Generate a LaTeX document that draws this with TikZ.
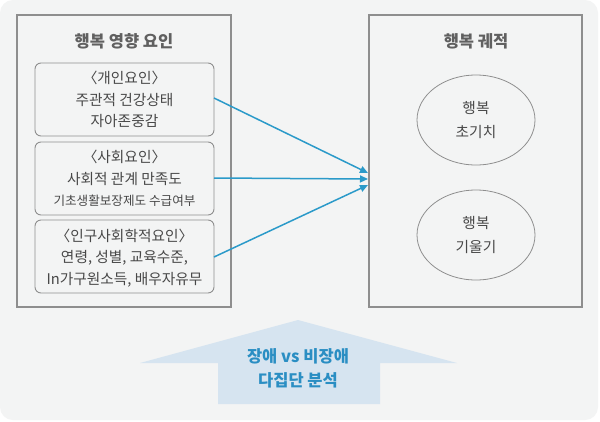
\documentclass[tikz,border=0pt]{standalone}
\usepackage{fontspec}
\setmainfont{Noto Sans CJK KR}
\usetikzlibrary{shapes.geometric,arrows.meta}
\definecolor{bgc}{HTML}{F3F4F4}
\definecolor{edgec}{HTML}{8E8E8E}
\definecolor{txtc}{HTML}{484848}
\definecolor{ttlc}{HTML}{606060}
\definecolor{bluec}{HTML}{2B9AC9}
\definecolor{bigc}{HTML}{D6E4F0}
\definecolor{bigtxt}{HTML}{2A8EC3}
\tikzset{
  outerbox/.style={draw=edgec,line width=1.2pt,fill=bgc},
  innerbox/.style={draw=edgec,line width=0.9pt,rounded corners=6pt,fill=bgc},
  ttl/.style={text=ttlc,font=\fontsize{16.5}{18}\selectfont\bfseries,inner sep=0pt},
  body/.style={text=txtc,font=\fontsize{14.7}{21.5}\selectfont,align=center,inner sep=0pt},
  oval/.style={ellipse,draw=edgec,line width=0.8pt,minimum width=118pt,minimum height=90pt,inner sep=0pt,
    text=txtc,font=\fontsize{14.7}{24}\selectfont,align=center},
  conn/.style={draw=bluec,line width=1.5pt,-{Triangle[length=8pt,width=7pt]}},
  bigtext/.style={text=bigtxt,font=\fontsize{16.5}{24}\selectfont\bfseries,align=center,inner sep=0pt}
}
\begin{document}
\begin{tikzpicture}[x=1pt,y=-1pt]
\useasboundingbox (0,0) rectangle (600,421);
\fill[white] (0,0) rectangle (600,421);
\fill[bgc,rounded corners=13pt] (0,0) rectangle (598,420);
% outer boxes
\draw[outerbox] (17,15) rectangle (231,307);
\draw[outerbox] (369,15) rectangle (582,307);
\node[ttl] (lt) at (124,41) {행복 영향 요인};
\node[ttl] (rt) at (476,41) {행복 궤적};
% inner boxes
\draw[innerbox] (35,63) rectangle (214,136);
\draw[innerbox] (35,142) rectangle (214,215);
\draw[innerbox] (35,220) rectangle (214,293);
\coordinate (b1) at (214,98);
\coordinate (b2) at (214,178);
\coordinate (b3) at (214,257);
\node[body] (t1) at (124.5,99.5) {〈개인요인〉\\주관적 건강상태\\자아존중감};
\node[body] (t2a) at (124.5,168) {〈사회요인〉\\사회적 관계 만족도};
\node[text=txtc,font=\fontsize{12.6}{14}\selectfont,inner sep=0pt] (t2b) at (124.5,201) {기초생활보장제도 수급여부};
\node[body] (t3) at (124.5,258) {〈인구사회학적요인〉\\연령, 성별, 교육수준,\\In가구원소득, 배우자유무};
% ellipses
\node[oval] (e1) at (476,120) {행복\\초기치};
\node[oval] (e2) at (476,235) {행복\\기울기};
% arrow targets
\coordinate (a1) at (368,173);
\coordinate (a2) at (368,179);
\coordinate (a3) at (368,185);
\draw[conn] (b1) -- (a1);
\draw[conn] (b2) -- (a2);
\draw[conn] (b3) -- (a3);
% big arrow
\fill[bigc] (298,320) -- (457,363) -- (380,363) -- (380,404) -- (218,404) -- (218,363) -- (140,363) -- cycle;
\node[bigtext] (bt) at (298,368) {장애 vs 비장애\\다집단 분석};
\end{tikzpicture}
\end{document}
